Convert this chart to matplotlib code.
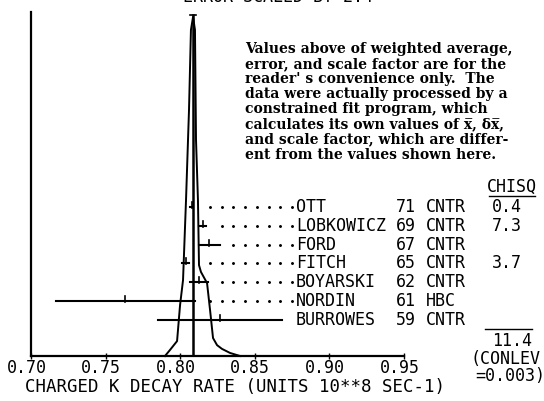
import matplotlib
matplotlib.use("Agg")
import matplotlib.pyplot as plt
from matplotlib.transforms import ScaledTranslation

# Charged K decay rate measurements (units 10**8 s^-1)
authors = ["OTT", "LOBKOWICZ", "FORD", "FITCH", "BOYARSKI", "NORDIN", "BURROWES"]
years = ["71", "69", "67", "65", "62", "61", "59"]
techniques = ["CNTR", "CNTR", "CNTR", "CNTR", "CNTR", "HBC", "CNTR"]
values = [0.8078, 0.8150, 0.8195, 0.8037, 0.8125, 0.7633, 0.8267]
errors = [0.0010, 0.0024, 0.0072, 0.0025, 0.0062, 0.0466, 0.0416]
chisq = ["0.4", "7.3", "", "3.7", "", "", ""]
chisq_total = "11.4"
conlev = "0.003"
weighted_avg = 0.8085
scale_note = "ERROR SCALED BY 2.4"

# Ideogram outline: rate and relative height (peak = 1)
ideo_x = [0.7898, 0.7932, 0.7979, 0.7999, 0.8019, 0.8039, 0.8059, 0.8072, 0.8086,
          0.8099, 0.8106, 0.8119, 0.8126, 0.8139, 0.8180, 0.8200, 0.8220, 0.8247,
          0.8280, 0.8334, 0.8401]
ideo_h = [0.000, 0.018, 0.044, 0.150, 0.224, 0.460, 0.726, 0.962, 1.000,
          0.962, 0.637, 0.460, 0.268, 0.248, 0.215, 0.136, 0.053, 0.032,
          0.021, 0.009, 0.000]

xticks = [0.70, 0.75, 0.80, 0.85, 0.90, 0.95]
xtick_labels = ["0.70", "0.75", "0.80", "0.85", "0.90", "0.95"]
xlabel = "CHARGED K DECAY RATE (UNITS 10**8 SEC-1)"

note_lines = [
    "Values above of weighted average,",
    "error, and scale factor are for the",
    "reader' s convenience only.  The",
    "data were actually processed by a",
    "constrained fit program, which",
    "calculates its own values of x\u0305, \u03b4x\u0305,",
    "and scale factor, which are differ-",
    "ent from the values shown here.",
]

W, H = 544, 401
MONO = "DejaVu Sans Mono"
SERIF = "DejaVu Serif"
plotter = dict(family=MONO, fontsize=12, color="black")

fig = plt.figure(figsize=(W / 100, H / 100), dpi=100)
fig.patch.set_facecolor("white")
ax = fig.add_axes([31 / W, 1 - 356 / H, 373 / W, 344 / H])
ax.set_xlim(0.70, 0.95)
ax.set_ylim(0, 344)
ax.set_facecolor("white")
for side in ("top", "right"):
    ax.spines[side].set_visible(False)
for side in ("left", "bottom"):
    ax.spines[side].set_linewidth(1.6)
ax.set_yticks([])
ax.set_xticks(xticks)
ax.set_xticklabels(xtick_labels, **plotter)
ax.tick_params(axis="x", direction="inout", length=4, width=1.0, pad=0)
for lab in ax.get_xticklabels():
    lab.set_transform(lab.get_transform() + ScaledTranslation(-4.5 / 100, 0, fig.dpi_scale_trans))

# ideogram
peak = 339
ax.plot(ideo_x, [h * peak for h in ideo_h], color="black", lw=1.4, clip_on=False)

# weighted average line with cap
ax.plot([weighted_avg, weighted_avg], [0, 341], color="black", lw=1.8)
ax.plot([weighted_avg - 0.0018, weighted_avg + 0.0018], [341, 341], color="black", lw=1.2)

# measurements
row_top = 149
row_step = 18.8
name_x = 0.8776
dot_x0 = 0.8749
dot_step = 0.00784
for i, (v, e) in enumerate(zip(values, errors)):
    y = row_top - i * row_step
    ax.plot([v - e, v + e], [y, y], color="black", lw=1.5, clip_on=False)
    ax.plot([v, v], [y - 1, y + 5], color="black", lw=1.2)
    # leader dots toward the label
    d = dot_x0
    pts = []
    while d > v + e + 0.007:
        pts.append(d)
        d -= dot_step
    if pts:
        ax.plot(pts, [y] * len(pts), ls="none", marker="o", ms=1.1, color="black", clip_on=False)
    ax.text(name_x, y, authors[i], ha="left", va="center", clip_on=False, **plotter)
    ax.text(0.9446, y, years[i], ha="left", va="center", clip_on=False, **plotter)
    ax.text(0.9647, y, techniques[i], ha="left", va="center", clip_on=False, **plotter)
    if chisq[i]:
        fig.text(507 / W, 1 - (356 - y) / H, chisq[i], ha="center", va="center", **plotter)

# chi-square column
fig.text(512 / W, 1 - 187 / H, "CHISQ", ha="center", va="center", **plotter)
fig.add_artist(plt.Line2D([489 / W, 535 / W], [1 - 196 / H, 1 - 196 / H], color="black", lw=1.0))
fig.add_artist(plt.Line2D([485 / W, 532 / W], [1 - 329 / H, 1 - 329 / H], color="black", lw=1.0))
fig.text(512 / W, 1 - 341 / H, chisq_total, ha="center", va="center", **plotter)
fig.text(505 / W, 1 - 359 / H, "(CONLEV", ha="center", va="center", **plotter)
fig.text(510 / W, 1 - 376 / H, "=" + conlev + ")", ha="center", va="center", **plotter)

# axis label
fig.text(25 / W, 1 - 387 / H, xlabel, ha="left", va="center",
         family=MONO, fontsize=12.5, color="black")

# scale factor note, running off the top edge
fig.text(278 / W, 1 + 3.5 / H, scale_note, ha="center", va="center", **plotter)

# explanatory note
for k, line in enumerate(note_lines):
    fig.text(245 / W, 1 - (49 + 15.1 * k) / H, line, ha="left", va="center",
             family=SERIF, fontweight="bold", fontsize=10, color="black")

fig.savefig("out.png", dpi=100, facecolor="white")
